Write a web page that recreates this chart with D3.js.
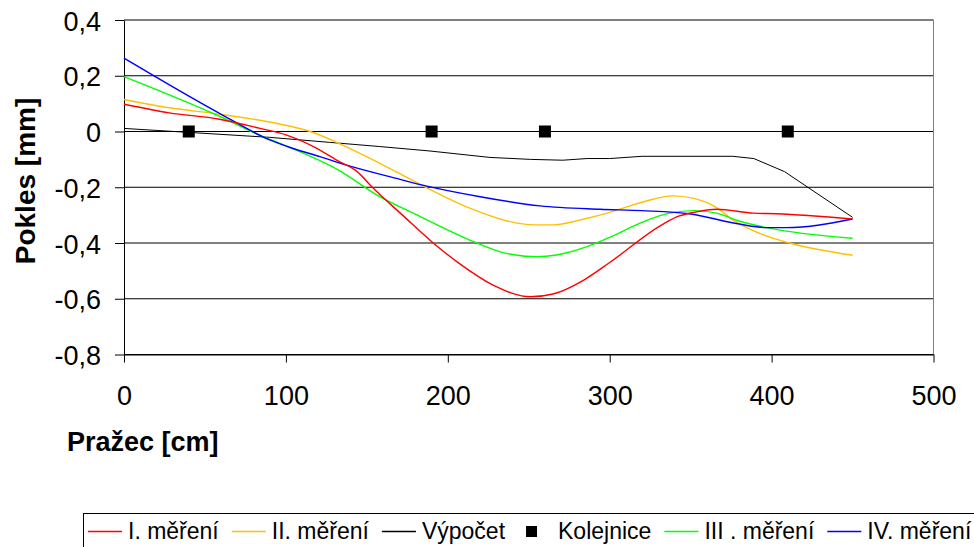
<!DOCTYPE html>
<html>
<head>
<meta charset="utf-8">
<script src="https://cdn.jsdelivr.net/npm/d3@7"></script>
<style>
  html, body { margin: 0; padding: 0; background: #fff; }
  svg { display: block; font-family: "Liberation Sans", Arial, sans-serif; }
</style>
</head>
<body>
<svg id="chart" width="974" height="547"></svg>
<script>
// Deflection along the sleeper (Pokles) measured four times, with the computed curve
const xTicks = [0, 100, 200, 300, 400, 500];
const yTicks = [0.4, 0.2, 0, -0.2, -0.4, -0.6, -0.8];

const mer1X = [0, 28, 59, 84, 100, 117, 133, 144, 154, 172, 191, 207, 228, 251, 265, 284, 300, 333, 343, 352, 366, 389, 403, 450];
const mer1Y = [0.098, 0.067, 0.044, 0.011, -0.012, -0.054, -0.108, -0.144, -0.204, -0.300, -0.400, -0.473, -0.551, -0.593, -0.583, -0.533, -0.470, -0.332, -0.303, -0.290, -0.279, -0.293, -0.295, -0.314];

const mer2X = [0, 28, 59, 96, 115, 137, 158, 185, 214, 236, 253, 265, 282, 300, 321, 339, 352, 366, 376, 395, 411, 450];
const mer2Y = [0.115, 0.085, 0.062, 0.027, 0.000, -0.054, -0.114, -0.196, -0.276, -0.320, -0.335, -0.335, -0.317, -0.290, -0.252, -0.231, -0.240, -0.273, -0.317, -0.371, -0.400, -0.444];

const vypocetX = [0, 90, 127, 158, 189, 226, 251, 271, 286, 300, 320, 376, 389, 408, 450];
const vypocetY = [0.011, -0.021, -0.039, -0.054, -0.070, -0.093, -0.100, -0.103, -0.097, -0.097, -0.089, -0.089, -0.097, -0.144, -0.308];

const kolejniceX = [40, 190, 260, 410];
const kolejniceY = [0, 0, 0, 0];

const mer3X = [0, 60, 86, 96, 133, 158, 183, 216, 236, 255, 267, 286, 300, 321, 337, 352, 366, 381, 397, 450];
const mer3Y = [0.197, 0.052, -0.019, -0.042, -0.140, -0.234, -0.305, -0.395, -0.437, -0.449, -0.443, -0.413, -0.380, -0.323, -0.293, -0.284, -0.293, -0.323, -0.345, -0.383];

const mer4X = [0, 59, 90, 104, 121, 137, 170, 187, 220, 257, 294, 320, 350, 380, 397, 409, 450];
const mer4Y = [0.263, 0.065, -0.030, -0.060, -0.090, -0.120, -0.171, -0.196, -0.234, -0.267, -0.279, -0.284, -0.296, -0.332, -0.345, -0.345, -0.314];

const legendNames = ["I. měření", "II. měření", "Výpočet", "Kolejnice", "III . měření", "IV. měření"];

const svg = d3.select("#chart");

const x = d3.scaleLinear().domain([0, 500]).range([124, 933.5]);
const y = d3.scaleLinear().domain([-0.8, 0.4]).range([354.5, 20]);

const cs = d3.formatLocale({ decimal: ",", thousands: " ", grouping: [3], currency: ["", " Kč"], minus: "-" });
const fmt = cs.format("~g");

// horizontal gridlines
svg.append("g").selectAll("line").data(yTicks).join("line")
  .attr("x1", x(0)).attr("x2", x(500))
  .attr("y1", d => y(d)).attr("y2", d => y(d))
  .attr("stroke", "#000").attr("stroke-width", 1);

// right border of the plot area
svg.append("line")
  .attr("x1", x(500)).attr("x2", x(500))
  .attr("y1", y(0.4)).attr("y2", y(-0.8))
  .attr("stroke", "#808080").attr("stroke-width", 1);

// axes
const gx = svg.append("g").attr("transform", `translate(0,${y(-0.8)})`)
  .call(d3.axisBottom(x).tickValues(xTicks).tickSize(8).tickSizeOuter(0).tickFormat(d3.format("d")));
gx.selectAll("text").attr("y", 50.5).attr("dy", 0)
  .style("font-size", "27px").attr("fill", "#000");

const gy = svg.append("g").attr("transform", `translate(${x(0)},0)`)
  .call(d3.axisLeft(y).tickValues(yTicks).tickSize(9).tickSizeOuter(0).tickFormat(fmt));
gy.selectAll("text").attr("x", -23).attr("dy", 10)
  .style("font-size", "27px").attr("fill", "#000");

svg.selectAll(".domain").attr("stroke", "#000");
svg.selectAll(".tick line").attr("stroke", "#000");

// series
const lineGen = (curve) => d3.line().x(d => x(d[0])).y(d => y(d[1])).curve(curve);
const pairs = (xs, ys) => xs.map((v, i) => [v, ys[i]]);

const series = [
  { xs: vypocetX, ys: vypocetY, color: "#000000", w: 1, curve: d3.curveLinear },
  { xs: mer2X, ys: mer2Y, color: "#FFC000", w: 1.4, curve: d3.curveMonotoneX },
  { xs: mer3X, ys: mer3Y, color: "#00FF00", w: 1.4, curve: d3.curveMonotoneX },
  { xs: mer4X, ys: mer4Y, color: "#0000FF", w: 1.4, curve: d3.curveMonotoneX },
  { xs: mer1X, ys: mer1Y, color: "#FF0000", w: 1.4, curve: d3.curveMonotoneX }
];

svg.append("g").selectAll("path").data(series).join("path")
  .attr("d", s => lineGen(s.curve)(pairs(s.xs, s.ys)))
  .attr("fill", "none")
  .attr("stroke", s => s.color)
  .attr("stroke-width", s => s.w)
  .attr("stroke-linejoin", "round");

// rail positions
const sq = 12;
svg.append("g").selectAll("rect").data(pairs(kolejniceX, kolejniceY)).join("rect")
  .attr("x", d => x(d[0]) - sq / 2).attr("y", d => y(d[1]) - sq / 2)
  .attr("width", sq).attr("height", sq).attr("fill", "#000");

// axis titles
svg.append("text")
  .attr("x", 67).attr("y", 451)
  .style("font-size", "27px").style("font-weight", "bold")
  .text("Pražec [cm]");

svg.append("text")
  .attr("transform", "translate(35,181) rotate(-90)")
  .attr("text-anchor", "middle")
  .style("font-size", "28px").style("font-weight", "bold")
  .text("Pokles [mm]");

// legend
const legend = svg.append("g");
legend.append("rect")
  .attr("x", 83.5).attr("y", 513.5).attr("width", 1000).attr("height", 100)
  .attr("fill", "#fff").attr("stroke", "#000").attr("stroke-width", 1);

const legendStyle = [
  { color: "#FF0000", kind: "line" },
  { color: "#FFC000", kind: "line" },
  { color: "#000000", kind: "line" },
  { color: "#000000", kind: "square" },
  { color: "#00FF00", kind: "line" },
  { color: "#0000FF", kind: "line" }
];

const ly = 531.5;
let lx = 88;
legendNames.forEach((name, i) => {
  const st = legendStyle[i];
  if (st.kind === "line") {
    legend.append("line")
      .attr("x1", lx).attr("x2", lx + 34).attr("y1", ly).attr("y2", ly)
      .attr("stroke", st.color).attr("stroke-width", 1.4);
  } else {
    legend.append("rect")
      .attr("x", lx + 8).attr("y", ly - 5.5).attr("width", 11).attr("height", 11)
      .attr("fill", st.color);
  }
  const t = legend.append("text")
    .attr("x", lx + 40).attr("y", ly + 7)
    .style("font-size", "23px").attr("fill", "#000")
    .text(name);
  lx = lx + 40 + t.node().getComputedTextLength() + 13;
});
</script>
</body>
</html>
